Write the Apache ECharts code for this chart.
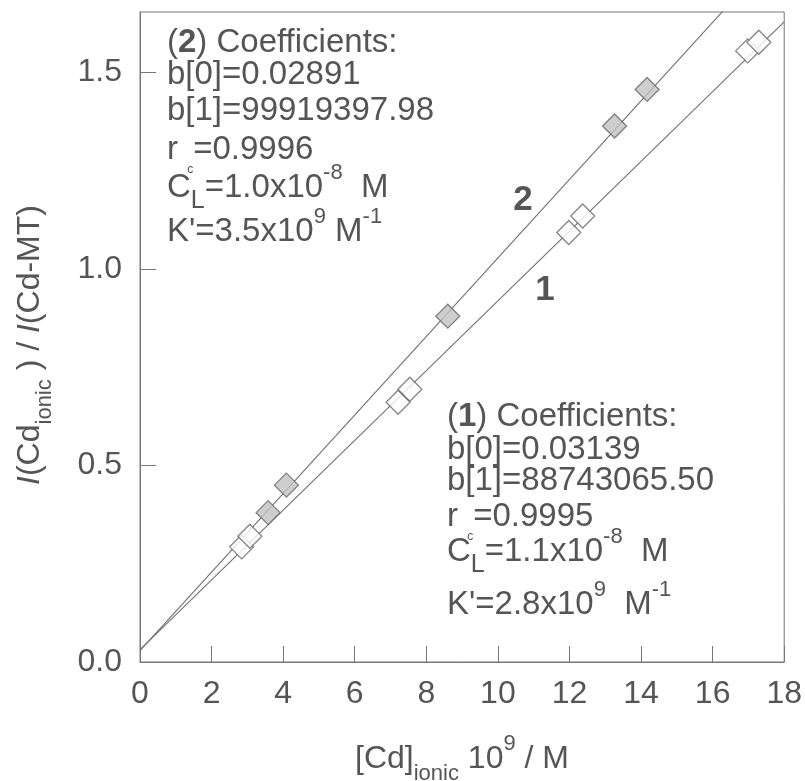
<!DOCTYPE html>
<html><head><meta charset="utf-8">
<script src="https://cdn.jsdelivr.net/npm/echarts@6/dist/echarts.min.js"></script>
<style>html,body{margin:0;padding:0;background:#fff}#c{width:805px;height:781px}</style>
</head><body><div id="c"></div>
<script>
// ---- data ----
const xTickLabels = ['0','2','4','6','8','10','12','14','16','18'];
const yTickLabels = ['0.0','0.5','1.0','1.5'];
// series (1): open diamonds
const series1X = [2.84, 3.07, 7.21, 7.54, 11.98, 12.37, 16.98, 17.29];
const series1Y = [0.293, 0.320, 0.661, 0.694, 1.093, 1.135, 1.555, 1.577];
// series (2): grey filled diamonds
const series2X = [3.58, 4.09, 8.60, 13.26, 14.17];
const series2Y = [0.380, 0.450, 0.880, 1.364, 1.457];
// regression lines (endpoints read at x = 0 and x = 18)
const fit1X = [0, 18];
const fit1Y = [0.03139, 1.6288];
const fit2X = [0, 18];
const fit2Y = [0.02891, 1.8274];

const zip = (xs, ys) => xs.map((x, i) => [x, ys[i]]);

const FONT = '"Liberation Sans", Arial, sans-serif';
const TXT = '#555';
const AX = '#777';

const rich = {
  b:   {fontSize: 33, lineHeight: 52, fontFamily: FONT, color: TXT},
  bb:  {fontSize: 33, lineHeight: 52, fontFamily: FONT, color: TXT, fontWeight: 'bold'},
  it:  {fontSize: 32, lineHeight: 52, fontFamily: FONT, color: TXT, fontStyle: 'italic'},
  yb:  {fontSize: 32, lineHeight: 52, fontFamily: FONT, color: TXT},
  sub: {fontSize: 25, lineHeight: 25, fontFamily: FONT, color: TXT, verticalAlign: 'bottom'},
  ssub:{fontSize: 22, lineHeight: 22, fontFamily: FONT, color: TXT, verticalAlign: 'bottom'},
  tiny:{fontSize: 12, lineHeight: 28, fontFamily: FONT, color: TXT, verticalAlign: 'bottom'},
  sup: {fontSize: 22, lineHeight: 36, fontFamily: FONT, color: TXT, verticalAlign: 'top'}
};

function txt(x, y, text) {
  return {
    type: 'text', x: x, y: y, z: 100,
    style: {text: text, rich: rich, align: 'left', verticalAlign: 'middle', fill: TXT}
  };
}

const ann2 = [
  [43,  '{b|(}{bb|2}{b|) Coefficients:}'],
  [75,  '{b|b[0]=0.02891}'],
  [111, '{b|b[1]=99919397.98}'],
  [150, '{b|r }{tiny|c}{b|=0.9996}'],
  [188, '{b|C}{sub|L}{b|=1.0x10}{sup|-8}{b|  M}'],
  [232, '{b|K\'=3.5x10}{sup|9}{b| M}{sup|-1}']
];
const ann1 = [
  [417, '{b|(}{bb|1}{b|) Coefficients:}'],
  [450, '{b|b[0]=0.03139}'],
  [481, '{b|b[1]=88743065.50}'],
  [517, '{b|r }{tiny|c}{b|=0.9995}'],
  [552, '{b|C}{sub|L}{b|=1.1x10}{sup|-8}{b|  M}'],
  [605, '{b|K\'=2.8x10}{sup|9}{b|  M}{sup|-1}']
];

const graphics = [];
ann2.forEach(r => graphics.push(txt(167, r[0], r[1])));
ann1.forEach(r => graphics.push(txt(447, r[0], r[1])));
graphics.push({type: 'text', x: 523, y: 200, z: 100,
  style: {text: '2', align: 'center', verticalAlign: 'middle', font: 'bold 35px ' + FONT, fill: TXT}});
graphics.push({type: 'text', x: 545, y: 290, z: 100,
  style: {text: '1', align: 'center', verticalAlign: 'middle', font: 'bold 35px ' + FONT, fill: TXT}});
// x axis title
graphics.push({type: 'text', x: 462, y: 759, z: 100,
  style: {text: '{yb|[Cd]}{ssub|ionic}{yb| 10}{sup|9}{yb| / M}', rich: rich, align: 'center', verticalAlign: 'middle', fill: TXT}});
// y axis title
graphics.push({type: 'text', x: 30, y: 345, z: 100, rotation: Math.PI / 2,
  style: {text: '{it|I}{yb|(Cd}{ssub|ionic}{yb| ) / }{it|I}{yb|(Cd-MT)}', rich: rich, align: 'center', verticalAlign: 'middle', fill: TXT}});

const chart = echarts.init(document.getElementById('c'), null, {renderer: 'canvas'});
chart.setOption({
  animation: false,
  backgroundColor: '#fff',
  grid: {left: 140, right: 20, top: 12, bottom: 119, show: true, borderColor: AX, borderWidth: 1, backgroundColor: 'transparent'},
  xAxis: {
    type: 'value', min: 0, max: 18, interval: 2,
    axisLine: {show: true, onZero: false, lineStyle: {color: AX, width: 1}},
    axisTick: {show: true, inside: true, length: 16, lineStyle: {color: AX, width: 1}},
    axisLabel: {fontSize: 32, color: TXT, fontFamily: FONT, margin: 16,
      formatter: v => xTickLabels[Math.round(v / 2)] ?? ''},
    splitLine: {show: false}
  },
  yAxis: {
    type: 'value', min: 0, max: 1.654, interval: 0.5,
    axisLine: {show: true, onZero: false, lineStyle: {color: AX, width: 1}},
    axisTick: {show: true, inside: true, length: 16, lineStyle: {color: AX, width: 1}},
    axisLabel: {fontSize: 32, color: TXT, fontFamily: FONT, margin: 18, showMaxLabel: false,
      formatter: v => { const i = Math.round(v / 0.5); return Math.abs(v - i * 0.5) < 1e-6 ? (yTickLabels[i] ?? '') : ''; }},
    splitLine: {show: false}
  },
  series: [
    {type: 'line', data: zip(fit1X, fit1Y), symbol: 'none', clip: true, z: 2,
      lineStyle: {color: '#707070', width: 1.1}},
    {type: 'line', data: zip(fit2X, fit2Y), symbol: 'none', clip: true, z: 2,
      lineStyle: {color: '#707070', width: 1.1}},
    {type: 'scatter', data: zip(series1X, series1Y), symbol: 'diamond', symbolSize: 24, z: 5,
      itemStyle: {color: '#ffffff', borderColor: '#666', borderWidth: 1.3}},
    {type: 'scatter', data: zip(series2X, series2Y), symbol: 'diamond', symbolSize: 24, z: 5,
      itemStyle: {color: '#c2c2c2', borderColor: '#666', borderWidth: 1.3}}
  ],
  graphic: graphics
});
</script>
</body></html>
